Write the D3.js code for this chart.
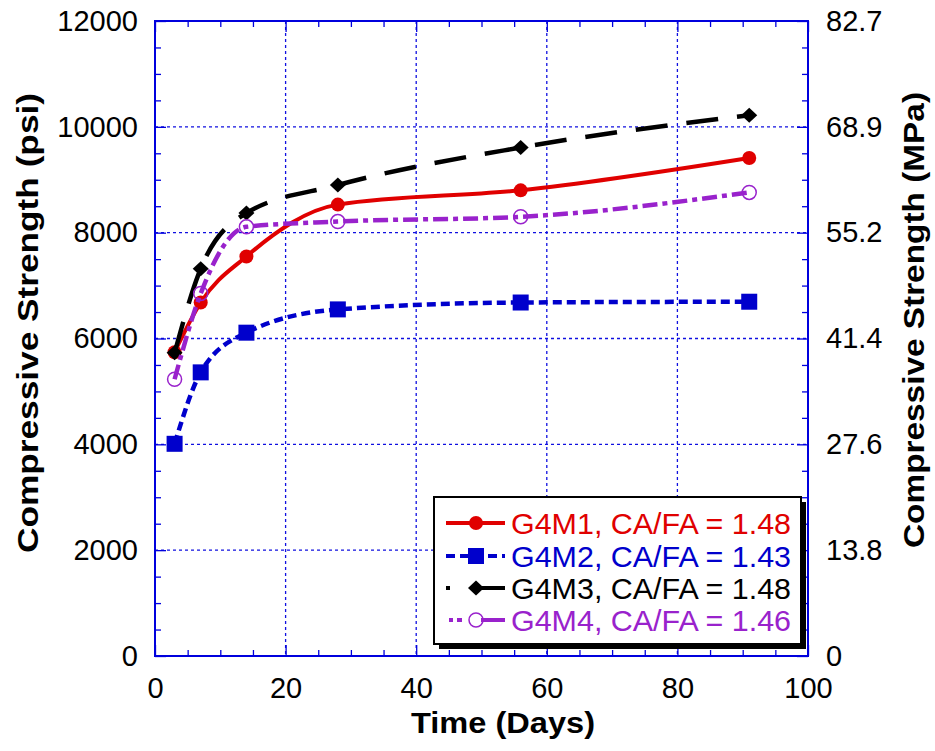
<!DOCTYPE html>
<html>
<head>
<meta charset="utf-8">
<script src="https://cdn.jsdelivr.net/npm/d3@7"></script>
<style>
  html, body { margin: 0; padding: 0; background: #fff; }
  text { font-family: "Liberation Sans", Arial, Helvetica, sans-serif; }
</style>
</head>
<body>
<svg id="chart" width="935" height="751"></svg>
<script>
// ---- data ----
const days = [3, 7, 14, 28, 56, 91];
const g4m1 = [5740, 6680, 7550, 8530, 8800, 9410];
const g4m2 = [4010, 5360, 6110, 6550, 6680, 6695];
const g4m3 = [5730, 7320, 8370, 8900, 9610, 10220];
const g4m4 = [5230, 6850, 8110, 8210, 8300, 8760];
const seriesNames = ["G4M1, CA/FA = 1.48", "G4M2, CA/FA = 1.43", "G4M3, CA/FA = 1.48", "G4M4, CA/FA = 1.46"];
const xTicks = [0, 20, 40, 60, 80, 100];
const xMinor = [5,10,15,25,30,35,45,50,55,65,70,75,85,90,95];
const yTicks = [0, 2000, 4000, 6000, 8000, 10000, 12000];
const mpaLabels = ["0", "13.8", "27.6", "41.4", "55.2", "68.9", "82.7"];
const xTitle = "Time (Days)";
const yTitle = "Compressive Strength (psi)";
const y2Title = "Compressive Strength (MPa)";

// ---- layout ----
const L = 155, R = 808, T = 21, B = 656;
const svg = d3.select("#chart");
const x = d3.scaleLinear().domain([0, 100]).range([L, R]);
const y = d3.scaleLinear().domain([0, 12000]).range([B, T]);
const yMinor = d3.range(500, 12000, 500).filter(v => v % 2000 !== 0);

const gridColor = "#1010e0";
const axisColor = "#0000dd";

// grid
const grid = svg.append("g");
grid.selectAll(".gx").data(xTicks.slice(1, -1)).join("line")
  .attr("x1", d => x(d)).attr("x2", d => x(d)).attr("y1", T).attr("y2", B)
  .attr("stroke", gridColor).attr("stroke-width", 1.3).attr("stroke-dasharray", "3,3");
grid.selectAll(".gy").data(yTicks.slice(1, -1)).join("line")
  .attr("y1", d => y(d)).attr("y2", d => y(d)).attr("x1", L).attr("x2", R)
  .attr("stroke", gridColor).attr("stroke-width", 1.3).attr("stroke-dasharray", "3,3");

// axes
function styleAxis(g, showText) {
  g.select(".domain").remove();
  g.selectAll(".tick line").attr("stroke", axisColor).attr("stroke-width", 1.3);
  g.selectAll(".tick text").attr("fill", "#000").style("font-size", "29px")
    .style("display", showText ? null : "none");
}
const MJ = 11, MN = 6;
svg.append("g").attr("transform", `translate(0,${B})`)
  .call(d3.axisBottom(x).tickValues(xTicks).tickSize(-MJ).tickPadding(21).tickFormat(d3.format("d")))
  .call(g => styleAxis(g, true));
svg.append("g").attr("transform", `translate(0,${B})`)
  .call(d3.axisBottom(x).tickValues(xMinor).tickSize(-MN).tickFormat(""))
  .call(g => styleAxis(g, false));
svg.append("g").attr("transform", `translate(0,${T})`)
  .call(d3.axisTop(x).tickValues(xTicks).tickSize(-MJ).tickFormat(""))
  .call(g => styleAxis(g, false));
svg.append("g").attr("transform", `translate(0,${T})`)
  .call(d3.axisTop(x).tickValues(xMinor).tickSize(-MN).tickFormat(""))
  .call(g => styleAxis(g, false));
svg.append("g").attr("transform", `translate(${L},0)`)
  .call(d3.axisLeft(y).tickValues(yTicks).tickSize(-MJ).tickPadding(17).tickFormat(d3.format("d")))
  .call(g => styleAxis(g, true));
svg.append("g").attr("transform", `translate(${L},0)`)
  .call(d3.axisLeft(y).tickValues(yMinor).tickSize(-MN).tickFormat(""))
  .call(g => styleAxis(g, false));
svg.append("g").attr("transform", `translate(${R},0)`)
  .call(d3.axisRight(y).tickValues(yTicks).tickSize(-MJ).tickPadding(18).tickFormat((d, i) => mpaLabels[i]))
  .call(g => styleAxis(g, true));
svg.append("g").attr("transform", `translate(${R},0)`)
  .call(d3.axisRight(y).tickValues(yMinor).tickSize(-MN).tickFormat(""))
  .call(g => styleAxis(g, false));

// frame
svg.append("rect").attr("x", L).attr("y", T).attr("width", R - L).attr("height", B - T)
  .attr("fill", "none").attr("stroke", axisColor).attr("stroke-width", 2);

// titles
svg.append("text").attr("x", 503).attr("y", 733).attr("text-anchor", "middle")
  .style("font-size", "29px").style("font-weight", "bold")
  .attr("textLength", 184).attr("lengthAdjust", "spacingAndGlyphs").text(xTitle);
svg.append("text").attr("transform", "translate(38,323) rotate(-90)").attr("text-anchor", "middle")
  .style("font-size", "30px").style("font-weight", "bold")
  .attr("textLength", 460).attr("lengthAdjust", "spacingAndGlyphs").text(yTitle);
svg.append("text").attr("transform", "translate(924,320) rotate(-90)").attr("text-anchor", "middle")
  .style("font-size", "30px").style("font-weight", "bold")
  .attr("textLength", 456).attr("lengthAdjust", "spacingAndGlyphs").text(y2Title);

// series
const series = [
  { name: seriesNames[0], values: g4m1, color: "#e00000", width: 4, dash: null, marker: "circle" },
  { name: seriesNames[1], values: g4m2, color: "#0000cc", width: 4.5, dash: "9,5", marker: "square" },
  { name: seriesNames[2], values: g4m3, color: "#000000", width: 4.5, dash: "32,19", marker: "diamond" },
  { name: seriesNames[3], values: g4m4, color: "#9922cc", width: 4.5, dash: "15,5,5,5", marker: "open" }
];

const line = d3.line().x(d => x(d[0])).y(d => y(d[1])).curve(d3.curveMonotoneX);

function drawMarker(g, type, color, cx, cy) {
  if (type === "circle") {
    g.append("circle").attr("cx", cx).attr("cy", cy).attr("r", 7).attr("fill", color);
  } else if (type === "square") {
    g.append("rect").attr("x", cx - 8).attr("y", cy - 8).attr("width", 16).attr("height", 16).attr("fill", color);
  } else if (type === "diamond") {
    g.append("path").attr("d", "M0,-7.5L8,0L0,7.5L-8,0Z").attr("transform", `translate(${cx},${cy})`).attr("fill", color);
  } else {
    g.append("circle").attr("cx", cx).attr("cy", cy).attr("r", 7).attr("fill", "none").attr("stroke", color).attr("stroke-width", 1.5);
  }
}

const plot = svg.append("g");
series.forEach(s => {
  const pts = days.map((d, i) => [d, s.values[i]]);
  plot.append("path").datum(pts).attr("d", line).attr("fill", "none")
    .attr("stroke", s.color).attr("stroke-width", s.width)
    .attr("stroke-dasharray", s.dash);
  pts.forEach(p => drawMarker(plot, s.marker, s.color, x(p[0]), y(p[1])));
});

// legend
const lg = svg.append("g");
const lx = 434, ly = 497, lw = 367, lh = 147;
lg.append("rect").attr("x", lx + 5).attr("y", ly + 5).attr("width", lw).attr("height", lh).attr("fill", "#000");
lg.append("rect").attr("x", lx).attr("y", ly).attr("width", lw).attr("height", lh)
  .attr("fill", "#fff").attr("stroke", "#000").attr("stroke-width", 2);
const rowY = [523, 556, 588, 620];
series.forEach((s, i) => {
  const cy = rowY[i];
  if (s.marker === "diamond") {
    lg.append("rect").attr("x", 446).attr("y", cy - 2).attr("width", 4).attr("height", 4).attr("fill", s.color);
    lg.append("line").attr("x1", 470).attr("x2", 505).attr("y1", cy).attr("y2", cy)
      .attr("stroke", s.color).attr("stroke-width", 4);
  } else if (s.marker === "open") {
    lg.append("line").attr("x1", 449).attr("x2", 472).attr("y1", cy).attr("y2", cy)
      .attr("stroke", s.color).attr("stroke-width", 4).attr("stroke-dasharray", "4,4,5,20");
    lg.append("line").attr("x1", 481).attr("x2", 505).attr("y1", cy).attr("y2", cy)
      .attr("stroke", s.color).attr("stroke-width", 4);
  } else {
    lg.append("line").attr("x1", 446).attr("x2", 505).attr("y1", cy).attr("y2", cy)
      .attr("stroke", s.color).attr("stroke-width", 4)
      .attr("stroke-dasharray", s.dash);
  }
  drawMarker(lg, s.marker, s.color, 476, cy);
  lg.append("text").attr("x", 511).attr("y", cy + 10.5).attr("fill", s.color)
    .style("font-size", "29px").attr("textLength", 280).attr("lengthAdjust", "spacingAndGlyphs")
    .text(s.name);
});
</script>
</body>
</html>
